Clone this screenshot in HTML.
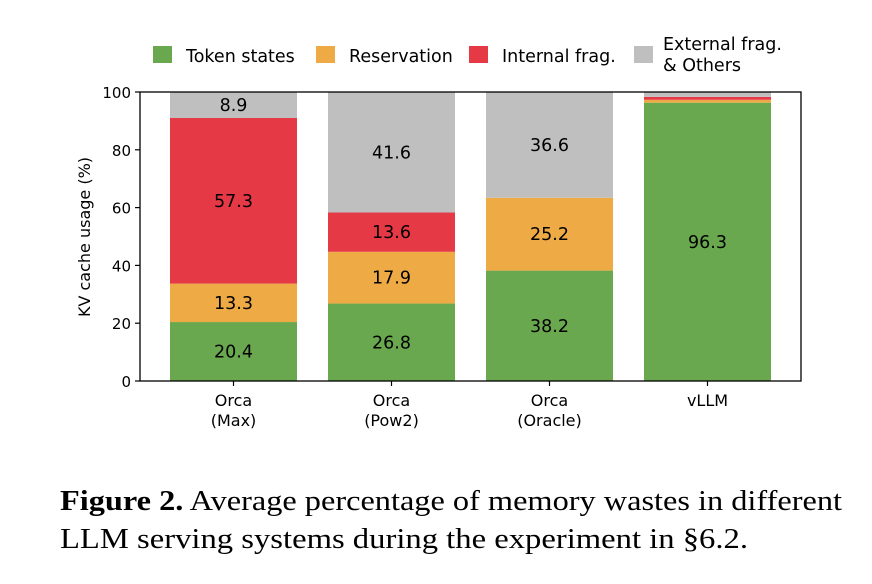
<!DOCTYPE html>
<html><head><meta charset="utf-8"><style>
body{margin:0;background:#fff;width:872px;height:579px;overflow:hidden}
text{font-family:"DejaVu Sans","Liberation Sans",sans-serif}
.cap{font-family:"Liberation Serif",serif;font-size:29px;fill:#000}
</style></head><body>
<svg id="c" width="872" height="579">
<g id="legend"></g>
<g id="bars"></g>
<g id="axes"></g>
<text x="60" y="510" class="cap" textLength="782" lengthAdjust="spacingAndGlyphs"><tspan font-weight="bold">Figure 2.</tspan> Average percentage of memory wastes in different</text>
<text x="60" y="548" class="cap" textLength="688" lengthAdjust="spacingAndGlyphs">LLM serving systems during the experiment in §6.2.</text>
</svg>
<script>
const categories=[["Orca","(Max)"],["Orca","(Pow2)"],["Orca","(Oracle)"],["vLLM",""]];
const tokenStates=[20.4,26.8,38.2,96.3];
const reservation=[13.3,17.9,25.2,1.0];
const internalFrag=[57.3,13.6,0,1.0];
const externalFrag=[8.9,41.6,36.6,1.7];
const yTicks=[0,20,40,60,80,100];
const seriesNames=["Token states","Reservation","Internal frag.","External frag. & Others"];
const colors=["#6aa84f","#eeab45","#e63946","#bfbfbf"];
const NS="http://www.w3.org/2000/svg";
const X0=140,X1=801,Y0=381,Y1=92;
function y(v){return Y0-(v/100)*(Y0-Y1);}
function xc(i){return 233.5+i*158;}
const BW=127;
function el(t,a,p,txt){const e=document.createElementNS(NS,t);for(const k in a)e.setAttribute(k,a[k]);if(txt!==undefined)e.textContent=txt;p.appendChild(e);return e;}
const bars=document.getElementById('bars'),axes=document.getElementById('axes'),lg=document.getElementById('legend');
const series=[tokenStates,reservation,internalFrag,externalFrag];
const segNames=['token-states','reservation','internal-frag','external-frag'];
categories.forEach((c,i)=>{
  let base=0;
  series.forEach((s,k)=>{
    const v=s[i];
    if(v>0){
      const r=el('rect',{x:xc(i)-BW/2,y:y(base+v),width:BW,height:y(base)-y(base+v),fill:colors[k]},bars);
      
      
      if(v>5){
        const t=el('text',{x:xc(i),y:y(base+v/2)+6,'text-anchor':'middle','font-size':'17.5',fill:'#000'},bars,v.toFixed(1));
        
        
      }
    }
    base+=v;
  });
  const l1=el('text',{x:xc(i),y:406,'text-anchor':'middle','font-size':'16'},axes,c[0]);
  
  
  if(c[1]){const l2=el('text',{x:xc(i),y:426,'text-anchor':'middle','font-size':'16'},axes,c[1]);
  
  }
  el('line',{x1:xc(i),x2:xc(i),y1:Y0,y2:Y0+5,stroke:'#000','stroke-width':1.2},axes);
});
el('rect',{x:X0,y:Y1,width:X1-X0,height:Y0-Y1,fill:'none',stroke:'#000','stroke-width':1.3},axes);
yTicks.forEach(v=>{
  el('line',{x1:X0-5,x2:X0,y1:y(v),y2:y(v),stroke:'#000','stroke-width':1.2},axes);
  const t=el('text',{x:X0-9,y:y(v)+6,'text-anchor':'end','font-size':'15'},axes,v);
  
  
});
const yt=el('text',{x:0,y:0,'text-anchor':'middle','font-size':'16',transform:'translate(90,237) rotate(-90)'},axes,'KV cache usage (%)');


const lx=[153,316,469,634];
seriesNames.forEach((n,k)=>{
  const r=el('rect',{x:lx[k],y:46,width:19,height:17,fill:colors[k]},lg);
  
  
  if(k<3){const t=el('text',{x:lx[k]+33,y:62,'font-size':'17.5'},lg,n);
    
    }
  else{const t=el('text',{x:lx[k]+29,y:50,'font-size':'17.5'},lg,'External frag.');
    
    
    const t2=el('text',{x:lx[k]+29,y:71,'font-size':'17.5'},lg,'& Others');
    
    }
});
</script>
</body></html>
